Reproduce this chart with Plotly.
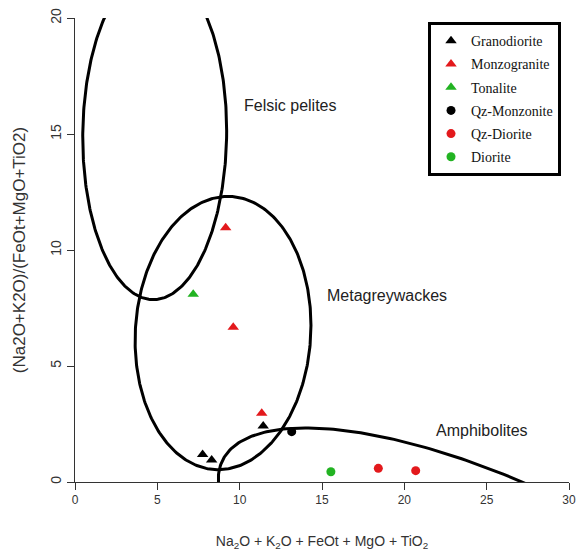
import numpy as np
import plotly.graph_objects as go

# Sample compositions: x = Na2O+K2O+FeOt+MgO+TiO2, y = (Na2O+K2O)/(FeOt+MgO+TiO2)
groups = ["Granodiorite", "Monzogranite", "Tonalite", "Qz-Monzonite", "Qz-Diorite", "Diorite"]
granodiorite_x = [7.75, 8.30, 11.43]
granodiorite_y = [1.19, 0.95, 2.41]
monzogranite_x = [9.15, 9.61, 11.34]
monzogranite_y = [10.96, 6.67, 2.96]
tonalite_x = [7.18]
tonalite_y = [8.09]
qz_monzonite_x = [13.16]
qz_monzonite_y = [2.17]
qz_diorite_x = [18.42, 20.69]
qz_diorite_y = [0.59, 0.49]
diorite_x = [15.54]
diorite_y = [0.44]

# Source-rock fields as ellipses: centre, half-extents and phase shift
field_names = ["Felsic pelites", "Metagreywackes", "Amphibolites"]
field_cx = [4.84, 8.99, 26.98]
field_cy = [15.0, 6.42, -5.36]
field_rx = [4.37, 5.34, 18.28]
field_ry = [7.14, 5.89, 7.69]
field_phi = [0.02, 0.055, -0.7895]
label_x = [10.14, 15.18, 21.8]
label_y = [16.25, 8.02, 2.24]

x_ticks = [0, 5, 10, 15, 20, 25, 30]
y_ticks = [0, 5, 10, 15, 20]

RED = "#E3191C"
GREEN = "#22B322"
BLACK = "#000000"

fig = go.Figure()

t = np.linspace(0, 2 * np.pi, 400)
for cx, cy, rx, ry, ph in zip(field_cx, field_cy, field_rx, field_ry, field_phi):
    fig.add_trace(go.Scatter(
        x=cx + rx * np.cos(t), y=cy + ry * np.sin(t + ph),
        mode="lines", line=dict(color="black", width=3),
        showlegend=False, hoverinfo="skip"))

series = [
    (granodiorite_x, granodiorite_y, "triangle-up", BLACK, 10),
    (monzogranite_x, monzogranite_y, "triangle-up", RED, 10),
    (tonalite_x, tonalite_y, "triangle-up", GREEN, 10),
    (qz_monzonite_x, qz_monzonite_y, "circle", BLACK, 9),
    (qz_diorite_x, qz_diorite_y, "circle", RED, 9),
    (diorite_x, diorite_y, "circle", GREEN, 9),
]
for name, (xs, ys, sym, col, sz) in zip(groups, series):
    fig.add_trace(go.Scatter(
        x=xs, y=ys, mode="markers", name=name, legendgroup=name,
        marker=dict(symbol=sym, color=col, size=sz, line=dict(width=0)),
        cliponaxis=False))

for name, lx, ly in zip(field_names, label_x, label_y):
    fig.add_annotation(x=lx, y=ly, text=name, showarrow=False,
                       xanchor="left", yanchor="middle",
                       font=dict(family="Liberation Sans, Arial", size=16, color="#222"))

x_tick_font = dict(family="Liberation Sans, Arial", size=12, color="#333")
y_tick_font = dict(family="Liberation Sans, Arial", size=14, color="#333")
fig.update_layout(
    width=578, height=551,
    margin=dict(l=75, r=9, t=18, b=69),
    paper_bgcolor="white", plot_bgcolor="white",
    showlegend=True,
    legend=dict(
        x=0.7146, y=0.991, xanchor="left", yanchor="top",
        bordercolor="black", borderwidth=3, bgcolor="white",
        traceorder="grouped", tracegroupgap=2,
        font=dict(family="Liberation Serif, Times New Roman", size=14, color="#111")),
    xaxis=dict(
        range=[0, 30], tickvals=x_ticks, ticktext=[str(v) for v in x_ticks],
        automargin=False,
        showgrid=False, zeroline=False, showline=True, linecolor="#333", linewidth=1,
        ticks="outside", ticklen=7, tickcolor="#333", tickfont=x_tick_font,
        title=dict(text="Na<sub>2</sub>O + K<sub>2</sub>O + FeOt + MgO + TiO<sub>2</sub>",
                   font=dict(family="Liberation Sans, Arial", size=14, color="#333"),
                   standoff=30)),
    yaxis=dict(
        range=[0, 20], tickvals=y_ticks, ticktext=[str(v) for v in y_ticks],
        automargin=False,
        showgrid=False, zeroline=False, showline=True, linecolor="#333", linewidth=1,
        ticks="outside", ticklen=7, tickcolor="#333", tickfont=y_tick_font, tickangle=-90,
        title=dict(text="(Na2O+K2O)/(FeOt+MgO+TiO2)",
                   font=dict(family="Liberation Sans, Arial", size=17, color="#333"),
                   standoff=18)),
)

fig.write_html("out.html")
